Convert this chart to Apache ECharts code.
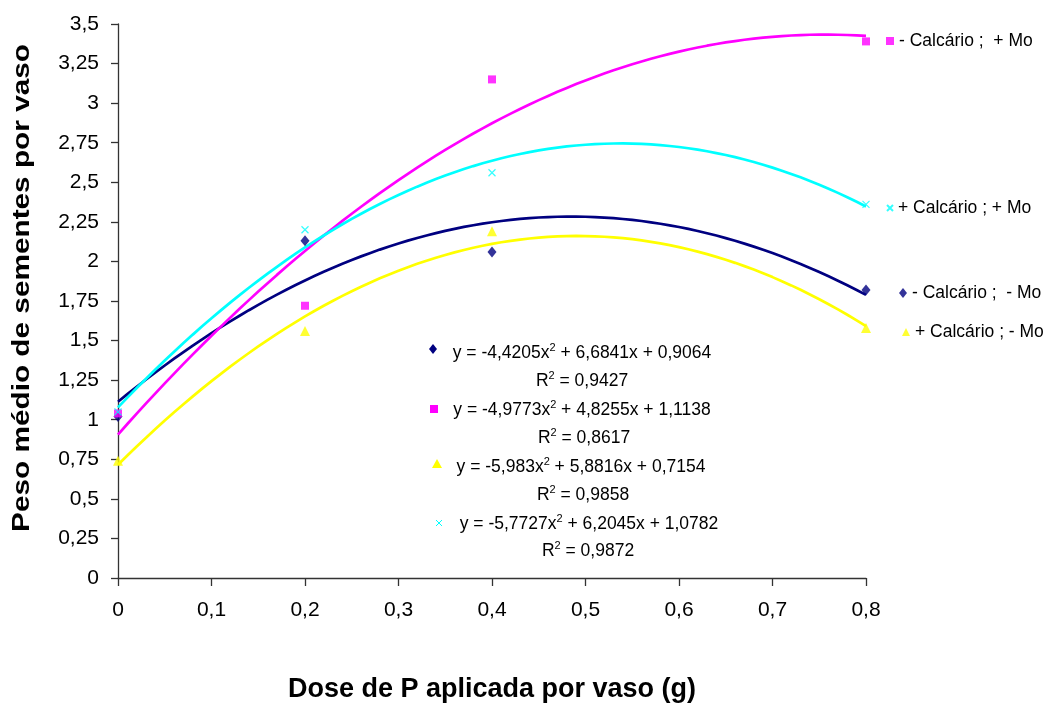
<!DOCTYPE html>
<html>
<head>
<meta charset="utf-8">
<script src="https://cdn.jsdelivr.net/npm/echarts@6/dist/echarts.min.js"></script>
<style>
  html, body { margin: 0; padding: 0; background: #fff; }
  #chart { width: 1047px; height: 708px; }
</style>
</head>
<body>
<div id="chart"></div>
<script>
// Doses of P (g per pot)
const doses = [0, 0.2, 0.4, 0.8];
const xTicks = ['0', '0,1', '0,2', '0,3', '0,4', '0,5', '0,6', '0,7', '0,8'];
const yTicks = ['0', '0,25', '0,5', '0,75', '1', '1,25', '1,5', '1,75', '2', '2,25', '2,5', '2,75', '3', '3,25', '3,5'];

// Mean seed weight per pot for each treatment
const semCalcSemMo = [1.02, 2.13, 2.06, 1.82];   // - Calcário ; - Mo
const semCalcComMo = [1.04, 1.72, 3.15, 3.39];   // - Calcário ; + Mo
const comCalcSemMo = [0.74, 1.56, 2.19, 1.58];   // + Calcário ; - Mo
const comCalcComMo = [1.05, 2.20, 2.56, 2.36];   // + Calcário ; + Mo

// Quadratic trend coefficients [a, b, c] for y = a x^2 + b x + c
const trendSemCalcSemMo = [-4.9773, 4.8255, 1.1138];
const trendSemCalcComMo = [-4.4205, 6.6841, 0.9064];
const trendComCalcSemMo = [-5.983, 5.8816, 0.7154];
const trendComCalcComMo = [-5.7727, 6.2045, 1.0782];

// Equation labels as printed in the chart
const eqCoefText = [
  ['-4,4205', '6,6841', '0,9064'],
  ['-4,9773', '4,8255', '1,1138'],
  ['-5,983', '5,8816', '0,7154'],
  ['-5,7727', '6,2045', '1,0782']
];
const eqR2Text = ['0,9427', '0,8617', '0,9858', '0,9872'];

const names = ['- Calcário ;  - Mo', '- Calcário ;  + Mo', '+ Calcário ; - Mo', '+ Calcário ; + Mo'];

function trendPoints(coef) {
  const pts = [];
  for (let i = 0; i <= 80; i++) {
    const x = i / 100;
    pts.push([x, coef[0] * x * x + coef[1] * x + coef[2]]);
  }
  return pts;
}
function pairs(ys) { return doses.map((x, i) => [x, ys[i]]); }

const NAVY = '#000080', MAGENTA = '#FF00FF', YELLOW = '#FFFF00', CYAN = '#00FFFF';
const crossPath = 'path://M0,0L10,10M10,0L0,10';
const groups = [
  { name: names[0], data: semCalcSemMo, trend: trendSemCalcSemMo, color: NAVY, symbol: 'diamond', size: [9, 11] },
  { name: names[1], data: semCalcComMo, trend: trendSemCalcComMo, color: MAGENTA, symbol: 'rect', size: 8 },
  { name: names[2], data: comCalcSemMo, trend: trendComCalcSemMo, color: YELLOW, symbol: 'triangle', size: 10 },
  { name: names[3], data: comCalcComMo, trend: trendComCalcComMo, color: CYAN, symbol: crossPath, size: 7 }
];

const series = [];
groups.forEach(g => {
  series.push({
    type: 'line', data: trendPoints(g.trend), showSymbol: false, smooth: false,
    lineStyle: { color: g.color, width: 2.7 }, silent: true, z: 2
  });
});
groups.forEach(g => {
  const isCross = g.symbol === crossPath;
  series.push({
    name: g.name, type: 'scatter', data: pairs(g.data),
    symbol: g.symbol, symbolSize: g.size, z: 3,
    itemStyle: isCross ? { color: 'rgba(0,0,0,0)', borderColor: g.color, borderWidth: 1.2 } : { color: g.color }
  });
});

const font = 'Liberation Sans, Arial, sans-serif';

// Series keys placed beside the last points
const legendPos = [
  { name: names[1], left: 886, top: 31, w: 8, h: 8 },
  { name: names[3], left: 886, top: 198, w: 6, h: 6 },
  { name: names[0], left: 899, top: 283, w: 8, h: 10 },
  { name: names[2], left: 902, top: 322, w: 8, h: 8 }
];
const legends = legendPos.map(p => ({
  data: [p.name], left: p.left, top: p.top, orient: 'vertical',
  itemWidth: p.w, itemHeight: p.h, itemGap: 0, padding: 0, selectedMode: false,
  textStyle: { fontFamily: font, fontSize: 17.5, lineHeight: 20, color: '#000' }
}));

// Trend equations block
const eqCenterX = [582, 582, 581, 589];
const r2CenterX = [582, 584, 583, 588];
const eqCenterY = [353, 410, 467, 524];
const r2CenterY = [381, 438, 495, 551];
const graphics = [
  { type: 'polygon', shape: { points: [[433, 344], [437, 349], [433, 354], [429, 349]] }, style: { fill: NAVY } },
  { type: 'rect', shape: { x: 430, y: 405, width: 8, height: 8 }, style: { fill: MAGENTA } },
  { type: 'polygon', shape: { points: [[437, 459], [442, 468], [432, 468]] }, style: { fill: YELLOW } },
  { type: 'polyline', shape: { points: [[436, 520], [442, 526], [439, 523], [442, 520], [436, 526]] }, style: { stroke: CYAN, lineWidth: 1, fill: null } }
];
const richText = {
  n: { fontFamily: font, fontSize: 17.5, fill: '#000' },
  s: { fontFamily: font, fontSize: 11, fill: '#000', padding: [0, 0, 10, 0] }
};
eqCoefText.forEach((c, i) => {
  graphics.push({
    type: 'text', x: eqCenterX[i], y: eqCenterY[i],
    style: {
      text: '{n|y = ' + c[0] + 'x}{s|2}{n| + ' + c[1] + 'x + ' + c[2] + '}',
      align: 'center', verticalAlign: 'middle', rich: richText
    }
  });
  graphics.push({
    type: 'text', x: r2CenterX[i], y: r2CenterY[i],
    style: {
      text: '{n|R}{s|2}{n| = ' + eqR2Text[i] + '}',
      align: 'center', verticalAlign: 'middle', rich: richText
    }
  });
});
// Y axis title (stretched along its length)
graphics.push({
  type: 'text', x: 22, y: 288, rotation: Math.PI / 2, scaleX: 1.24,
  style: {
    text: 'Peso médio de sementes por vaso', align: 'center', verticalAlign: 'middle',
    fontFamily: font, fontSize: 24, fontWeight: 'bold', fill: '#000'
  }
});

const chart = echarts.init(document.getElementById('chart'));
chart.setOption({
  animation: false,
  backgroundColor: '#fff',
  grid: { left: 118, right: 181, top: 24, bottom: 126, containLabel: false },
  xAxis: {
    type: 'value', min: 0, max: 0.8, interval: 0.1,
    name: 'Dose de P aplicada por vaso (g)', nameLocation: 'middle', nameGap: 98,
    nameTextStyle: { fontFamily: font, fontSize: 27, fontWeight: 'bold', color: '#000', verticalAlign: 'top' },
    axisLine: { lineStyle: { color: '#333', width: 1.3 } },
    axisTick: { length: 8, lineStyle: { color: '#333', width: 1.3 } },
    axisLabel: { fontFamily: font, fontSize: 21, color: '#000', margin: 22,
      formatter: v => xTicks[Math.round(v * 10)] },
    splitLine: { show: false }
  },
  yAxis: {
    type: 'value', min: 0, max: 3.5, interval: 0.25,
    axisLine: { lineStyle: { color: '#333', width: 1.3 } },
    axisTick: { length: 7, inside: false, lineStyle: { color: '#333', width: 1.3 } },
    axisLabel: { fontFamily: font, fontSize: 21, color: '#000', margin: 19,
      formatter: v => yTicks[Math.round(v * 4)] },
    splitLine: { show: false }
  },
  legend: legends,
  series: series,
  graphic: graphics
});
</script>
</body>
</html>
